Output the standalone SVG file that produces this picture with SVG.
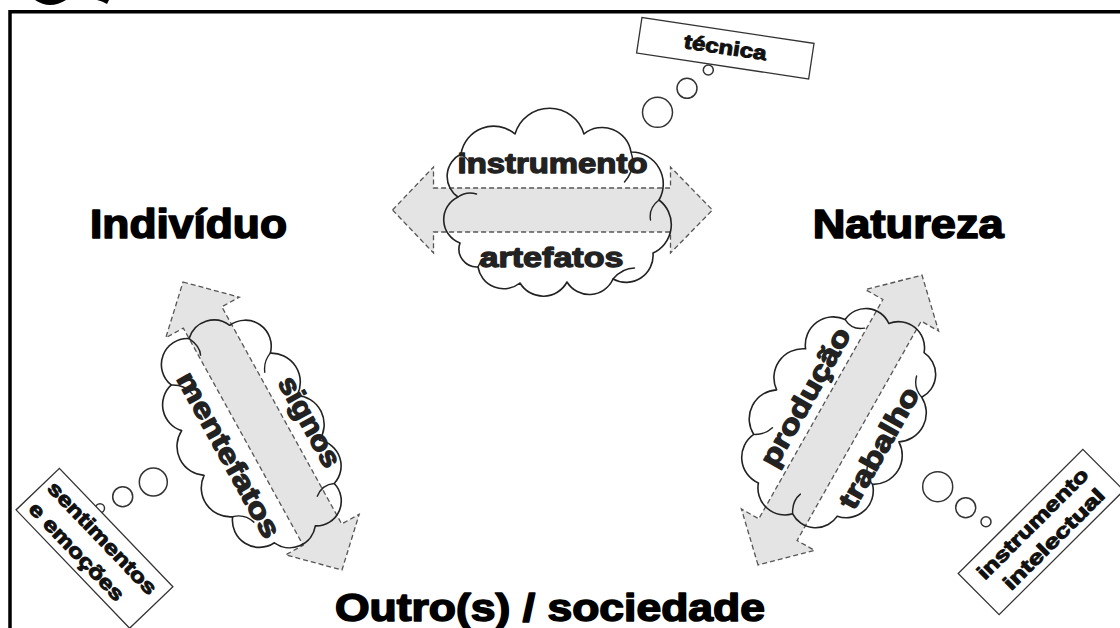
<svg xmlns="http://www.w3.org/2000/svg" width="1120" height="628" viewBox="0 0 1120 628">
<style>
.cloud{fill:none;stroke:#222;stroke-width:1.6;stroke-linejoin:round}
.hint{fill:none;stroke:#222;stroke-width:1.4;stroke-linecap:round}
.arrow{fill:#e4e4e4;stroke:#555;stroke-width:1.3;stroke-dasharray:5 3}
.bubble{fill:#fff;stroke:#333;stroke-width:1.5}
.box{fill:#fff;stroke:#333;stroke-width:1.3}
.ct{font-family:"Liberation Sans",Arial,sans-serif;font-weight:bold;font-size:28px;fill:#222;stroke:#222;stroke-width:1.3;stroke-linejoin:round}
.bt{font-family:"Liberation Sans",Arial,sans-serif;font-weight:bold;font-size:20px;fill:#111;stroke:#111;stroke-width:1;stroke-linejoin:round}
.title{font-family:"Liberation Sans",Arial,sans-serif;font-weight:bold;font-size:40px;fill:#000;stroke:#000;stroke-width:1.6;stroke-linejoin:round}
</style>
<rect width="1120" height="628" fill="#fff"/>
<g id="frame">
<path d="M35 0 Q50 10 66 0 Z" fill="#000"/>
<path d="M97 0 L109 0 L107 4 Q102 1 97 0 Z" fill="#000"/>
<path d="M8.3 11.7 H1120 M10 10 V628" fill="none" stroke="#000" stroke-width="3.5"/>
</g>
<g id="connectors">
<path class="arrow" transform="translate(552.5,210)" d="M -160 0 L -119 -43 L -119 -22 L 118 -22 L 118 -43 L 160 0 L 118 43 L 118 22 L -119 22 L -119 43 Z"/>
<path class="arrow" transform="translate(262.5,426) rotate(61.1)" d="M -164.5 0 L -124 -42 L -124 -22 L 124 -22 L 124 -42 L 164.5 0 L 124 42 L 124 22 L -124 22 L -124 42 Z"/>
<path class="arrow" transform="translate(840,420) rotate(-60.5)" d="M -166.5 0 L -126 -42 L -126 -22 L 126 -22 L 126 -42 L 166.5 0 L 126 42 L 126 22 L -126 22 L -126 42 Z"/>
</g>
<g id="cloud-instrumento" transform="translate(552.5,210)">
<path class="cloud" d="M -91.5 -56 A 33 33 0 0 1 -37.5 -76 A 36 36 0 0 1 31.5 -76 A 29 29 0 0 1 78.5 -58 A 32 32 0 0 1 106.5 -10 A 31 31 0 0 1 100.5 43 A 27 27 0 0 1 60.5 69 A 26 26 0 0 1 14.5 72 A 27 27 0 0 1 -32.5 73 A 26 26 0 0 1 -74.5 57 A 18 18 0 0 1 -92.5 33 A 25 25 0 0 1 -94.5 -13 A 25 25 0 0 1 -91.5 -56 Z"/>
<path class="hint" d="M -94.5 -13 Q -86 -19 -76 -16 M 78.5 -58 Q 84 -42 72 -28 M 106.5 -10 Q 96 -2 98 10 M -74.5 57 Q -70 46 -58 43 M 60.5 69 Q 70 58 82 58 M -91.5 -56 Q -82 -50 -80 -40"/>
<text class="ct" x="0" y="-37" text-anchor="middle" textLength="190" lengthAdjust="spacingAndGlyphs">instrumento</text>
<text class="ct" x="-1" y="57" text-anchor="middle" textLength="144" lengthAdjust="spacingAndGlyphs">artefatos</text>
</g>
<g id="cloud-signos" transform="translate(262.5,426) rotate(61.1)">
<path class="cloud" d="M -104 -20 A 26 26 0 0 1 -60 -42 A 29 29 0 0 1 -10 -45 A 29 29 0 0 1 40 -43 A 26 26 0 0 1 85 -35 A 25 25 0 0 1 113 2 A 26 26 0 0 1 108 46 A 27 27 0 0 1 65 70 A 29 29 0 0 1 15 75 A 29 29 0 0 1 -35 73 A 27 27 0 0 1 -80 60 A 26 26 0 0 1 -112 22 A 26 26 0 0 1 -104 -20 Z"/>
<path class="hint" d="M -60 -42 Q -56 -32 -46 -28 M 85 -35 Q 80 -24 88 -14 M 65 70 Q 68 58 80 54 M -80 60 Q -74 48 -62 46 M -112 22 Q -100 16 -92 20"/>
<text class="ct" x="19" y="-34" text-anchor="middle" textLength="100" lengthAdjust="spacingAndGlyphs">signos</text>
<text class="ct" x="9" y="53" text-anchor="middle" textLength="185" lengthAdjust="spacingAndGlyphs">mentefatos</text>
</g>
<g id="cloud-producao" transform="translate(840,420) rotate(-60.5)">
<path class="cloud" d="M -95 -40 A 28 28 0 0 1 -55 -68 A 29 29 0 0 1 -5 -70 A 29 29 0 0 1 45 -65 A 28 28 0 0 1 90 -45 A 25 25 0 0 1 108 -5 A 26 26 0 0 1 100 40 A 26 26 0 0 1 60 60 A 29 29 0 0 1 10 62 A 29 29 0 0 1 -40 60 A 27 27 0 0 1 -85 45 A 26 26 0 0 1 -105 5 A 27 27 0 0 1 -95 -40 Z"/>
<path class="hint" d="M -55 -68 Q -50 -58 -40 -55 M 90 -45 Q 84 -34 92 -24 M 60 60 Q 64 48 76 45 M -40 60 Q -36 48 -24 46 M -105 5 Q -94 -2 -84 2"/>
<text class="ct" x="3" y="-32" text-anchor="middle" textLength="155" lengthAdjust="spacingAndGlyphs">produção</text>
<text class="ct" x="-5" y="57" text-anchor="middle" textLength="135" lengthAdjust="spacingAndGlyphs">trabalho</text>
</g>
<g id="bubbles-tecnica">
<circle class="bubble" cx="657.5" cy="112.3" r="15"/>
<circle class="bubble" cx="687" cy="88.3" r="10"/>
<circle class="bubble" cx="708.3" cy="70" r="5"/>
</g>
<g id="bubbles-sentimentos">
<circle class="bubble" cx="153.3" cy="482" r="14"/>
<circle class="bubble" cx="122.7" cy="496.7" r="10"/>
<circle class="bubble" cx="100" cy="508.3" r="4.5"/>
</g>
<g id="bubbles-intelectual">
<circle class="bubble" cx="937.7" cy="486.7" r="15"/>
<circle class="bubble" cx="965.7" cy="507.7" r="10"/>
<circle class="bubble" cx="986" cy="521.7" r="5"/>
</g>
<g id="box-tecnica" transform="translate(725.3,48.2) rotate(8.6)">
<rect class="box" x="-87" y="-18" width="174" height="36"/>
<text class="bt" x="0" y="6" text-anchor="middle" textLength="83" lengthAdjust="spacingAndGlyphs">técnica</text>
</g>
<g id="box-sentimentos" transform="translate(94.5,548.3) rotate(46.2)">
<rect class="box" x="-82" y="-30" width="164" height="60"/>
<text class="bt" x="-76" y="-6" textLength="148" lengthAdjust="spacingAndGlyphs">sentimentos</text>
<text class="bt" x="-74" y="22" textLength="128" lengthAdjust="spacingAndGlyphs">e emoções</text>
</g>
<g id="box-intelectual" transform="translate(1041,532) rotate(-44.9)">
<rect class="box" x="-88" y="-29" width="176" height="58"/>
<text class="bt" x="0" y="-5" text-anchor="middle" textLength="148" lengthAdjust="spacingAndGlyphs">instrumento</text>
<text class="bt" x="4" y="21" text-anchor="middle" textLength="134" lengthAdjust="spacingAndGlyphs">intelectual</text>
</g>
<g id="title-individuo"><text class="title" x="90" y="238.3" textLength="197" lengthAdjust="spacingAndGlyphs">Indivíduo</text></g>
<g id="title-natureza"><text class="title" x="812.7" y="238.3" textLength="191" lengthAdjust="spacingAndGlyphs">Natureza</text></g>
<g id="title-sociedade"><text class="title" x="335" y="620.7" style="font-size:38.5px" textLength="430" lengthAdjust="spacingAndGlyphs">Outro(s) / sociedade</text></g>
</svg>
